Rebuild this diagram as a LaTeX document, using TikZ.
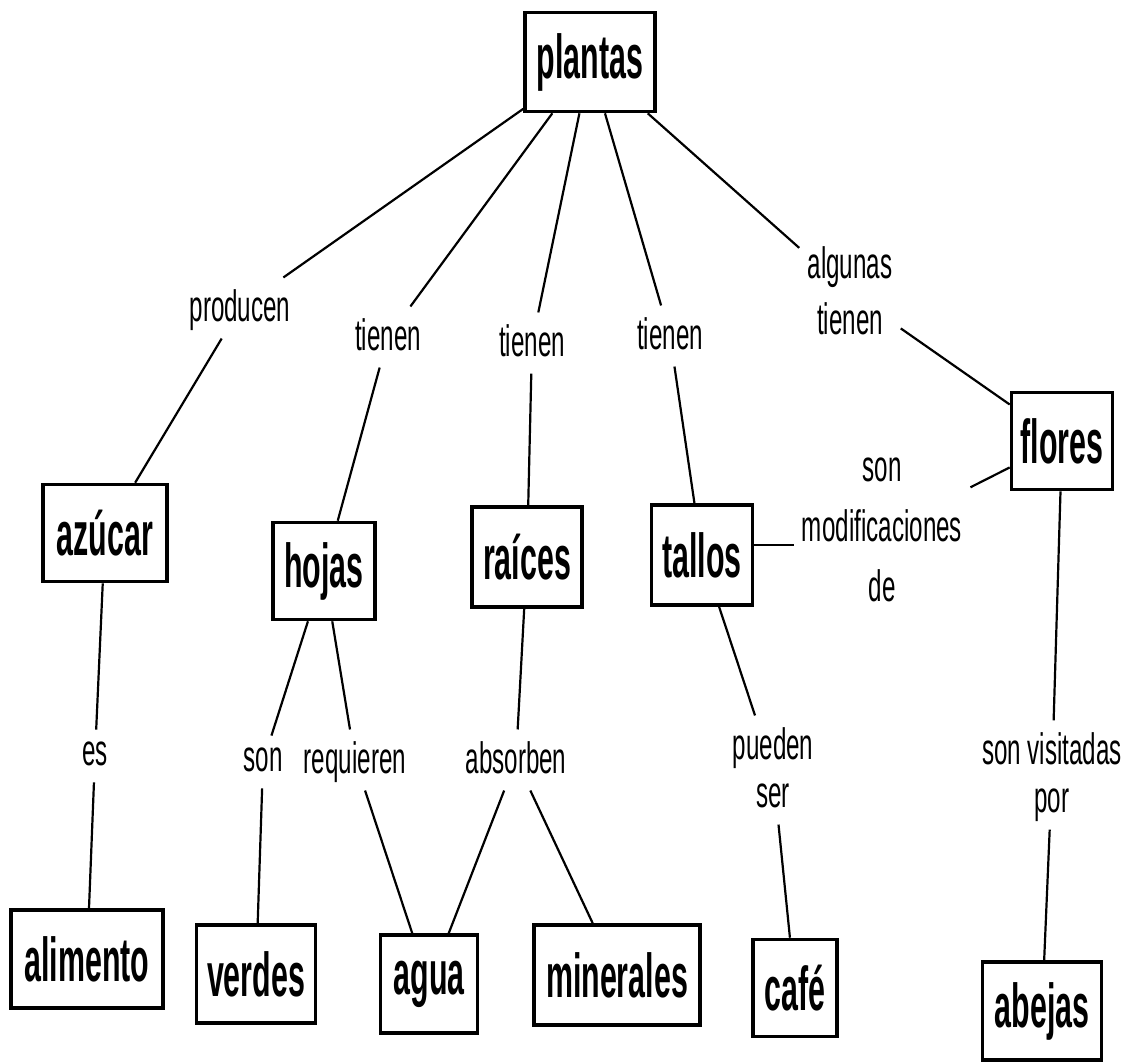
\documentclass[tikz,border=0pt]{standalone}
\usepackage{fontspec}
\newfontfamily\boxfont[FakeStretch=0.49]{Liberation Sans}
\newfontfamily\lblfont[FakeStretch=0.55]{Liberation Sans}
\begin{document}
\begin{tikzpicture}[x=0.5pt,y=-0.5pt,
  concept/.style={draw, line width=1.8pt, inner sep=0pt,
    font=\boxfont\bfseries\fontsize{31}{34}\selectfont},
  link/.style={inner xsep=4pt, inner ysep=6pt, align=center,
    text depth=0.22em,
    font=\lblfont\fontsize{22}{26}\selectfont},
  conn/.style={line width=1.1pt}]
\useasboundingbox (0,0) rectangle (1134,1064);

% concepts
\node[concept, minimum width=65pt, minimum height=49.5pt] (plantas) at (590,62) {plantas};
\node[concept, minimum width=62pt, minimum height=48.5pt] (azucar) at (105,533) {azúcar};
\node[concept, minimum width=51pt, minimum height=48.5pt] (hojas) at (324,571) {hojas};
\node[concept, minimum width=55pt, minimum height=50pt] (raices) at (527,557) {raíces};
\node[concept, minimum width=50.5pt, minimum height=50pt] (tallos) at (702,555) {tallos};
\node[concept, minimum width=50.5pt, minimum height=48.5pt] (flores) at (1062,441) {flores};
\node[concept, minimum width=76pt, minimum height=49pt] (alimento) at (87,959) {alimento};
\node[concept, minimum width=59.5pt, minimum height=49pt] (verdes) at (256,974) {verdes};
\node[concept, minimum width=48.5pt, minimum height=49pt] (agua) at (429,984) {agua};
\node[concept, minimum width=83pt, minimum height=50pt] (minerales) at (617,975) {minerales};
\node[concept, minimum width=42pt, minimum height=48.5pt] (cafe) at (795,988) {café};
\node[concept, minimum width=59.5pt, minimum height=49pt] (abejas) at (1042,1011) {abejas};

% linking phrases
\node[link] (producen) at (240,308) {producen};
\node[link] (tienenA) at (388,337) {tienen};
\node[link] (tienenB) at (532,343) {tienen};
\node[link] (tienenC) at (670,336) {tienen};
\node[link] (algunas) at (850,293) {algunas\\[2pt]tienen};
\node[link] (sonmod) at (882,532) {son\\[4pt]modificaciones\\[4pt]de};
\node[link] (es) at (95,756) {es};
\node[link] (son) at (263,762) {son};
\node[link] (requieren) at (355,760) {requieren};
\node[link] (absorben) at (516,760) {absorben};
\node[link] (pueden) at (773,770) {pueden\\[-2pt]ser};
\node[link] (visitadas) at (1052,775) {son visitadas\\[-2pt]por};

% connectors
\draw[conn] (plantas) -- (producen);
\draw[conn] (producen) -- (azucar);
\draw[conn] (plantas) -- (tienenA);
\draw[conn] (tienenA) -- (hojas);
\draw[conn] (plantas) -- (tienenB);
\draw[conn] (tienenB) -- (raices);
\draw[conn] (plantas) -- (tienenC);
\draw[conn] (tienenC) -- (tallos);
\draw[conn] (plantas) -- (algunas);
\draw[conn] (algunas) -- (flores);
\draw[conn] (flores) -- (sonmod);
\draw[conn] ([yshift=5pt]tallos.east) -- ([yshift=5pt]tallos.east -| sonmod.west);
\draw[conn] (azucar) -- (es);
\draw[conn] (es) -- (alimento);
\draw[conn] (hojas) -- (son);
\draw[conn] (son) -- (verdes);
\draw[conn] (hojas) -- (requieren);
\draw[conn] (requieren) -- (agua);
\draw[conn] (raices) -- (absorben);
\draw[conn] (absorben) -- (agua);
\draw[conn] (absorben) -- (minerales);
\draw[conn] (tallos) -- (pueden);
\draw[conn] (pueden) -- (cafe);
\draw[conn] (flores) -- (visitadas);
\draw[conn] (visitadas) -- (abejas);
\end{tikzpicture}
\end{document}
